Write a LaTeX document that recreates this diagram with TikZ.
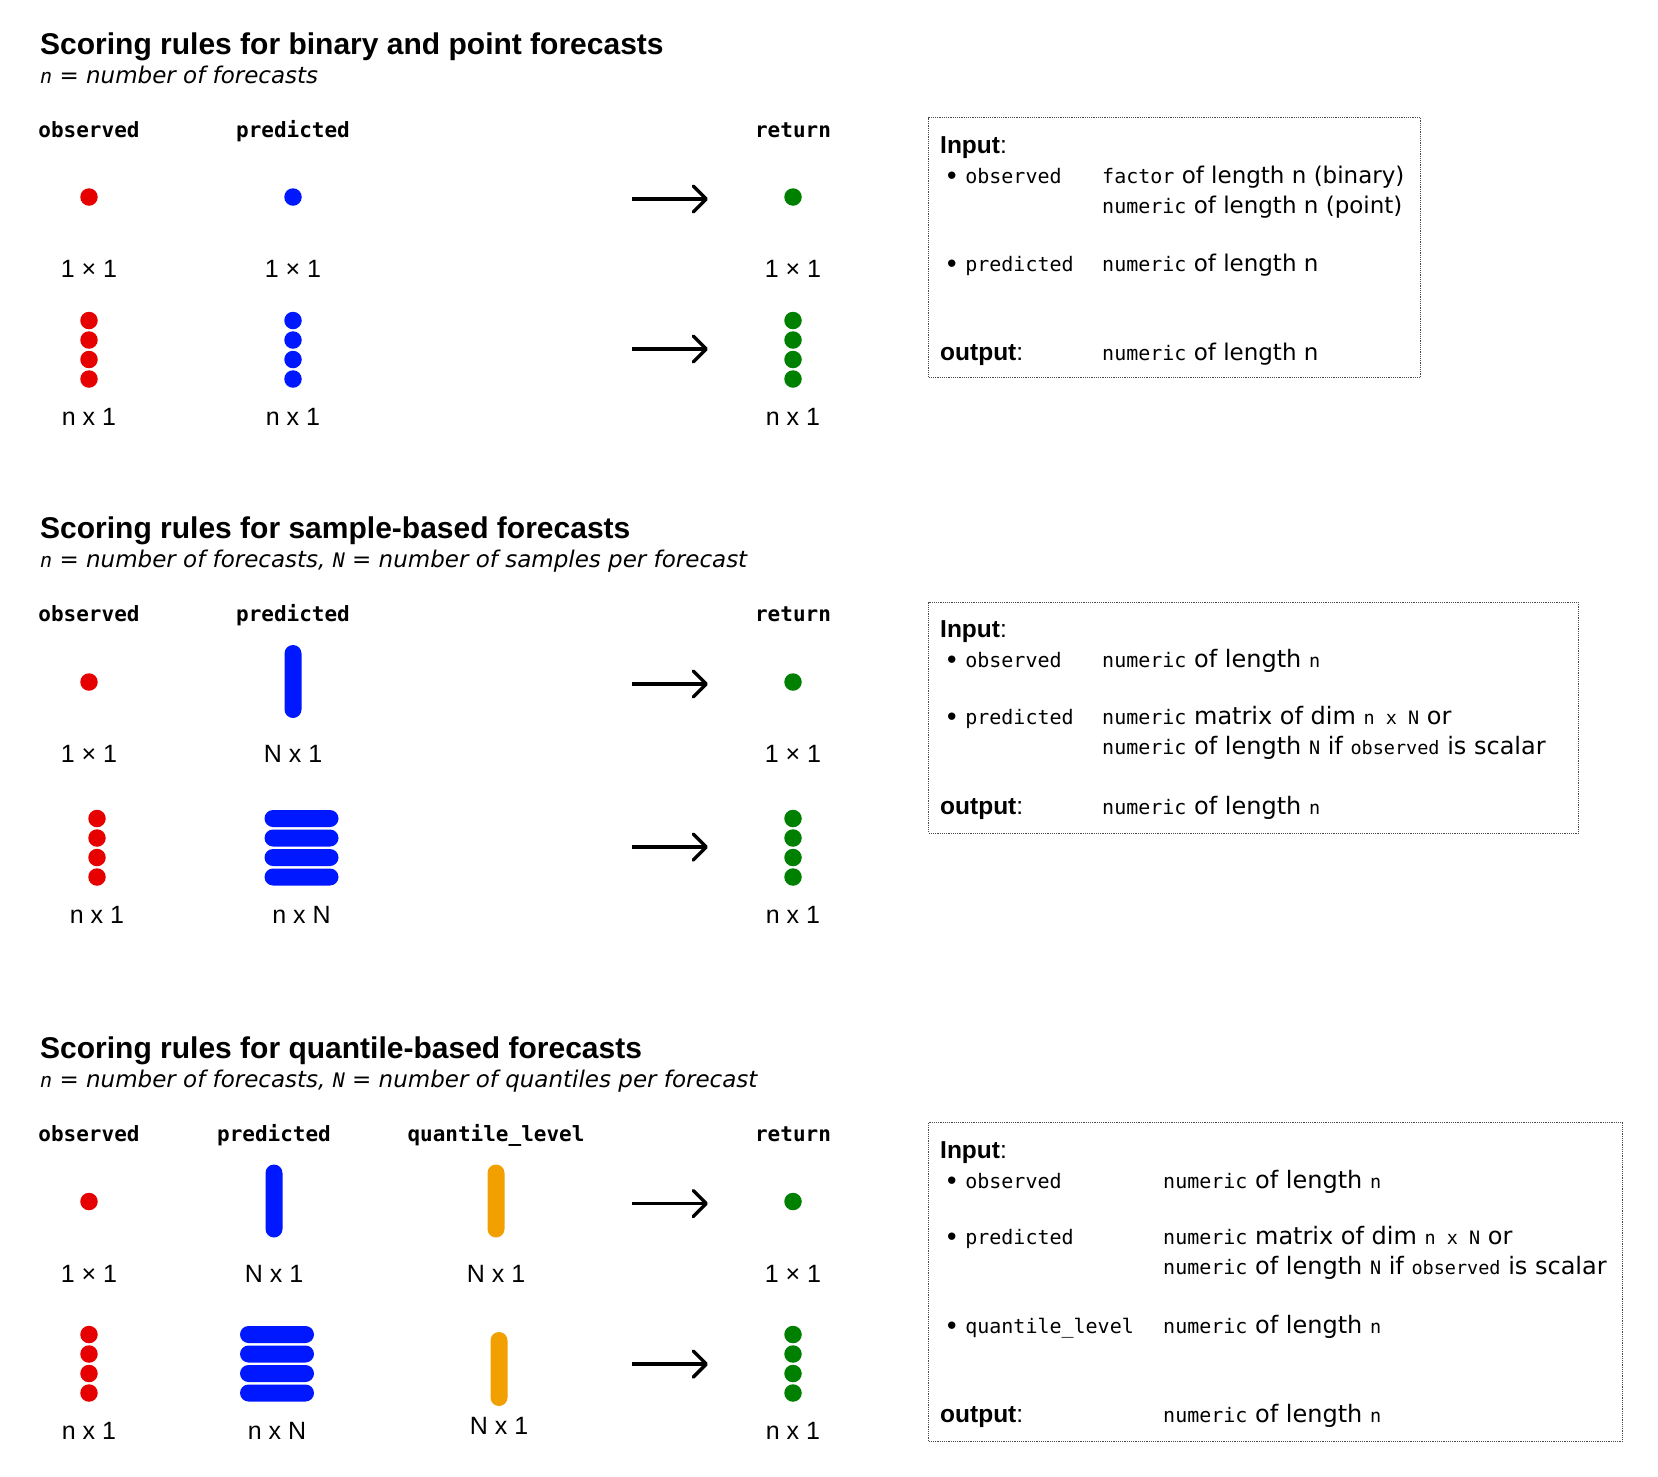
\documentclass[tikz,border=0pt]{standalone}
\usepackage{fontspec}
\setmainfont{DejaVu Sans}
\setmonofont{DejaVu Sans Mono}
\newfontfamily\headfont{Liberation Sans}
\usetikzlibrary{positioning,arrows.meta}

\definecolor{obsred}{RGB}{230,0,0}
\definecolor{predblue}{RGB}{0,24,255}
\definecolor{retgreen}{RGB}{0,128,0}
\definecolor{qorange}{RGB}{242,160,0}

\newcommand{\rcode}[1]{{\ttfamily\fontsize{20}{24}\selectfont #1}}
\newcommand{\smallcode}[1]{{\ttfamily\fontsize{18.5}{22}\selectfont #1}}

\begin{document}
\begin{tikzpicture}[x=1pt, y=-1pt,
    >={Straight Barb[length=13pt, width=26pt, round]},
    dot/.style={circle, inner sep=0pt, outer sep=0pt, minimum size=17.5pt},
    obsdot/.style={dot, fill=obsred},
    preddot/.style={dot, fill=predblue},
    retdot/.style={dot, fill=retgreen},
    vbar/.style={rectangle, rounded corners=8.5pt, inner sep=0pt, outer sep=0pt,
        minimum width=17pt, minimum height=73pt},
    hbar/.style={rectangle, rounded corners=8.5pt, inner sep=0pt, outer sep=0pt,
        minimum width=74pt, minimum height=17pt, fill=predblue},
    flow/.style={->, line width=3.5pt},
    title/.style={anchor=base west, inner sep=0pt, font=\headfont\bfseries\fontsize{30}{36}\selectfont},
    subtitle/.style={anchor=base west, inner sep=0pt, font=\itshape\fontsize{23}{28}\selectfont},
    colhead/.style={anchor=base, inner sep=0pt, font=\ttfamily\bfseries\fontsize{21}{25}\selectfont},
    dimlabel/.style={inner sep=0pt, font=\headfont\fontsize{25}{30}\selectfont},
    infobox/.style={draw=black!70, densely dotted, line width=1.2pt, anchor=north west, inner sep=0pt},
    boxkey/.style={anchor=base west, inner sep=0pt, font=\headfont\fontsize{24.5}{29}\selectfont},
    boxarg/.style={anchor=base west, inner sep=0pt, font=\fontsize{21}{25}\selectfont},
    boxval/.style={anchor=base west, inner sep=0pt, font=\fontsize{23}{28}\selectfont},
    boxvalb/.style={anchor=base west, inner sep=0pt, font=\fontsize{24}{29}\selectfont}
]

\path[use as bounding box, fill=white] (0,0) rectangle (1658,1476);

% binary and point forecasts
\node[title] (title1) at (40,54) {Scoring rules for binary and point forecasts};
\node[subtitle] (sub1) at (40,83) {{\ttfamily\fontsize{20}{24}\selectfont n} = number of forecasts};

\node[colhead] (obs1) at (89,137) {observed};
\node[colhead] (pred1) at (293,137) {predicted};
\node[colhead] (ret1) at (793,137) {return};

\node[obsdot] (obs1a) at (89,197) {};
\node[preddot] (pred1a) at (293,197) {};
\node[retdot] (ret1a) at (793,197) {};
\node[dimlabel] (obs1al) at (89,268.5) {1 × 1};
\node[dimlabel] (pred1al) at (293,268.5) {1 × 1};
\node[dimlabel] (ret1al) at (793,268.5) {1 × 1};

\node[obsdot] (obs1b1) at (89,320.5) {};
\node[obsdot, below=2pt of obs1b1] (obs1b2) {};
\node[obsdot, below=2pt of obs1b2] (obs1b3) {};
\node[obsdot, below=2pt of obs1b3] (obs1b4) {};
\node[preddot] (pred1b1) at (293,320.5) {};
\node[preddot, below=2pt of pred1b1] (pred1b2) {};
\node[preddot, below=2pt of pred1b2] (pred1b3) {};
\node[preddot, below=2pt of pred1b3] (pred1b4) {};
\node[retdot] (ret1b1) at (793,320.5) {};
\node[retdot, below=2pt of ret1b1] (ret1b2) {};
\node[retdot, below=2pt of ret1b2] (ret1b3) {};
\node[retdot, below=2pt of ret1b3] (ret1b4) {};
\node[dimlabel] (obs1bl) at (89,416.7) {n x 1};
\node[dimlabel] (pred1bl) at (293,416.7) {n x 1};
\node[dimlabel] (ret1bl) at (793,416.7) {n x 1};

\coordinate (arr1as) at (632,199);
\coordinate (arr1ae) at (708,199);
\coordinate (arr1bs) at (632,349);
\coordinate (arr1be) at (708,349);
\draw[flow] (arr1as) -- (arr1ae);
\draw[flow] (arr1bs) -- (arr1be);

\node[infobox, minimum width=492pt, minimum height=260pt] (box1) at (928,117) {};
\node[boxkey] (in1) at (940,153) {\textbf{Input}:};
\node[boxarg] (in1obs) at (945,183) {{\bfseries •} \rcode{observed}};
\node[boxval] (in1obsv) at (1102,183) {\rcode{factor} of length n (binary)};
\node[boxval] (in1obsw) at (1102,213) {\rcode{numeric} of length n (point)};
\node[boxarg] (in1pred) at (945,271) {{\bfseries •} \rcode{predicted}};
\node[boxval] (in1predv) at (1102,271) {\rcode{numeric} of length n};
\node[boxkey] (out1) at (940,360) {\textbf{output}:};
\node[boxval] (out1v) at (1102,360) {\rcode{numeric} of length n};

% sample-based forecasts
\node[title] (title2) at (40,538) {Scoring rules for sample-based forecasts};
\node[subtitle] (sub2) at (40,567) {{\ttfamily\fontsize{20}{24}\selectfont n} = number of forecasts, {\ttfamily\fontsize{20}{24}\selectfont N} = number of samples per forecast};

\node[colhead] (obs2) at (89,621) {observed};
\node[colhead] (pred2) at (293,621) {predicted};
\node[colhead] (ret2) at (793,621) {return};

\node[obsdot] (obs2a) at (89,682) {};
\node[vbar, fill=predblue] (pred2a) at (293,681.5) {};
\node[retdot] (ret2a) at (793,682) {};
\node[dimlabel] (obs2al) at (89,753.5) {1 × 1};
\node[dimlabel] (pred2al) at (293,753.5) {N x 1};
\node[dimlabel] (ret2al) at (793,753.5) {1 × 1};

\node[obsdot] (obs2b1) at (97,818.5) {};
\node[obsdot, below=2pt of obs2b1] (obs2b2) {};
\node[obsdot, below=2pt of obs2b2] (obs2b3) {};
\node[obsdot, below=2pt of obs2b3] (obs2b4) {};
\node[hbar] (pred2b1) at (301.5,818.5) {};
\node[hbar, below=2.5pt of pred2b1] (pred2b2) {};
\node[hbar, below=2.5pt of pred2b2] (pred2b3) {};
\node[hbar, below=2.5pt of pred2b3] (pred2b4) {};
\node[retdot] (ret2b1) at (793,818.5) {};
\node[retdot, below=2pt of ret2b1] (ret2b2) {};
\node[retdot, below=2pt of ret2b2] (ret2b3) {};
\node[retdot, below=2pt of ret2b3] (ret2b4) {};
\node[dimlabel] (obs2bl) at (97,914.7) {n x 1};
\node[dimlabel] (pred2bl) at (301.5,914.7) {n x N};
\node[dimlabel] (ret2bl) at (793,914.7) {n x 1};

\coordinate (arr2as) at (632,684);
\coordinate (arr2ae) at (708,684);
\coordinate (arr2bs) at (632,847);
\coordinate (arr2be) at (708,847);
\draw[flow] (arr2as) -- (arr2ae);
\draw[flow] (arr2bs) -- (arr2be);

\node[infobox, minimum width=650pt, minimum height=231pt] (box2) at (928,601.5) {};
\node[boxkey] (in2) at (940,637) {\textbf{Input}:};
\node[boxarg] (in2obs) at (945,667) {{\bfseries •} \rcode{observed}};
\node[boxvalb] (in2obsv) at (1102,667) {\rcode{numeric} of length \smallcode{n}};
\node[boxarg] (in2pred) at (945,724) {{\bfseries •} \rcode{predicted}};
\node[boxvalb] (in2predv) at (1102,724) {\rcode{numeric} matrix of dim \smallcode{n x N} or};
\node[boxvalb] (in2predw) at (1102,754) {\rcode{numeric} of length \smallcode{N} if \smallcode{observed} is scalar};
\node[boxkey] (out2) at (940,814) {\textbf{output}:};
\node[boxvalb] (out2v) at (1102,814) {\rcode{numeric} of length \smallcode{n}};

% quantile-based forecasts
\node[title] (title3) at (40,1058.5) {Scoring rules for quantile-based forecasts};
\node[subtitle] (sub3) at (40,1087.5) {{\ttfamily\fontsize{20}{24}\selectfont n} = number of forecasts, {\ttfamily\fontsize{20}{24}\selectfont N} = number of quantiles per forecast};

\node[colhead] (obs3) at (89,1141.5) {observed};
\node[colhead] (pred3) at (274,1141.5) {predicted};
\node[colhead] (qlev3) at (496,1141.5) {quantile\_level};
\node[colhead] (ret3) at (793,1141.5) {return};

\node[obsdot] (obs3a) at (89,1201.5) {};
\node[vbar, fill=predblue] (pred3a) at (274,1201) {};
\node[vbar, fill=qorange] (qlev3a) at (496,1201) {};
\node[retdot] (ret3a) at (793,1201.5) {};
\node[dimlabel] (obs3al) at (89,1273.5) {1 × 1};
\node[dimlabel] (pred3al) at (274,1273.5) {N x 1};
\node[dimlabel] (qlev3al) at (496,1273.5) {N x 1};
\node[dimlabel] (ret3al) at (793,1273.5) {1 × 1};

\node[obsdot] (obs3b1) at (89,1334.5) {};
\node[obsdot, below=2pt of obs3b1] (obs3b2) {};
\node[obsdot, below=2pt of obs3b2] (obs3b3) {};
\node[obsdot, below=2pt of obs3b3] (obs3b4) {};
\node[hbar] (pred3b1) at (277,1334.5) {};
\node[hbar, below=2.5pt of pred3b1] (pred3b2) {};
\node[hbar, below=2.5pt of pred3b2] (pred3b3) {};
\node[hbar, below=2.5pt of pred3b3] (pred3b4) {};
\node[vbar, fill=qorange, minimum height=74pt] (qlev3b) at (499,1369) {};
\node[retdot] (ret3b1) at (793,1334.5) {};
\node[retdot, below=2pt of ret3b1] (ret3b2) {};
\node[retdot, below=2pt of ret3b2] (ret3b3) {};
\node[retdot, below=2pt of ret3b3] (ret3b4) {};
\node[dimlabel] (obs3bl) at (89,1431) {n x 1};
\node[dimlabel] (pred3bl) at (277,1431) {n x N};
\node[dimlabel] (qlev3bl) at (499,1425.5) {N x 1};
\node[dimlabel] (ret3bl) at (793,1431) {n x 1};

\coordinate (arr3as) at (632,1203.5);
\coordinate (arr3ae) at (708,1203.5);
\coordinate (arr3bs) at (632,1364);
\coordinate (arr3be) at (708,1364);
\draw[flow] (arr3as) -- (arr3ae);
\draw[flow] (arr3bs) -- (arr3be);

\node[infobox, minimum width=694pt, minimum height=319pt] (box3) at (928,1122) {};
\node[boxkey] (in3) at (940,1158.5) {\textbf{Input}:};
\node[boxarg] (in3obs) at (945,1188.5) {{\bfseries •} \rcode{observed}};
\node[boxvalb] (in3obsv) at (1163,1188.5) {\rcode{numeric} of length \smallcode{n}};
\node[boxarg] (in3pred) at (945,1244) {{\bfseries •} \rcode{predicted}};
\node[boxvalb] (in3predv) at (1163,1244) {\rcode{numeric} matrix of dim \smallcode{n x N} or};
\node[boxvalb] (in3predw) at (1163,1274) {\rcode{numeric} of length \smallcode{N} if \smallcode{observed} is scalar};
\node[boxarg] (in3qlev) at (945,1333) {{\bfseries •} \rcode{quantile\_level}};
\node[boxvalb] (in3qlevv) at (1163,1333) {\rcode{numeric} of length \smallcode{n}};
\node[boxkey] (out3) at (940,1422) {\textbf{output}:};
\node[boxvalb] (out3v) at (1163,1422) {\rcode{numeric} of length \smallcode{n}};

\end{tikzpicture}
\end{document}
